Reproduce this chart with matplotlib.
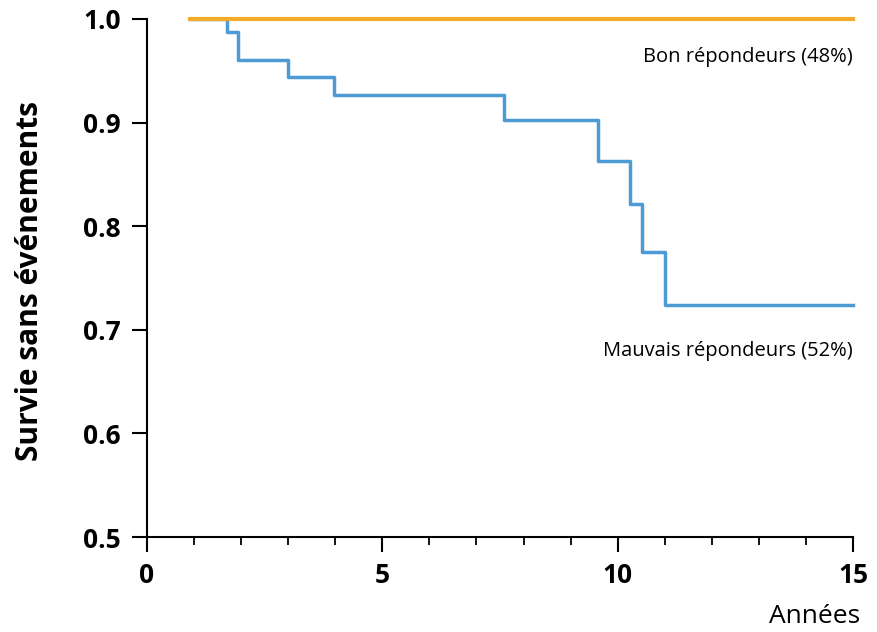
import matplotlib.pyplot as plt
from matplotlib.ticker import MultipleLocator

# Kaplan-Meier steps (years, survival)
good_t = [0.91, 15.0]
good_s = [1.0, 1.0]

poor_t = [0.91, 1.69, 1.94, 3.0, 3.97, 7.58, 9.59, 10.26, 10.52, 11.0, 15.0]
poor_s = [1.0, 0.987, 0.960, 0.944, 0.927, 0.902, 0.863, 0.821, 0.775, 0.724, 0.724]

good_label = "Bon répondeurs (48%)"
poor_label = "Mauvais répondeurs (52%)"

plt.rcParams["font.family"] = ["Open Sans", "DejaVu Sans"]

fig = plt.figure(figsize=(8.77, 6.32), dpi=100)
ax = fig.add_axes([0.1676, 0.1503, 0.805, 0.8197])

ax.step(poor_t, poor_s, where="post", color="#4d9bd5", lw=2.5, zorder=2, clip_on=False)
ax.step(good_t, good_s, where="post", color="#f5ab2a", lw=3, zorder=3, clip_on=False)

ax.set_xlim(0, 15)
ax.set_ylim(0.5, 1.0)
ax.set_xticks([0, 5, 10, 15])
ax.xaxis.set_minor_locator(MultipleLocator(1))
ax.set_yticks([0.5, 0.6, 0.7, 0.8, 0.9, 1.0])
ax.set_yticklabels(["0.5", "0.6", "0.7", "0.8", "0.9", "1.0"])

for s in ["top", "right"]:
    ax.spines[s].set_visible(False)
for s in ["left", "bottom"]:
    ax.spines[s].set_linewidth(1.5)

ax.tick_params(axis="both", which="major", length=11, width=1.5, labelsize=19)
ax.tick_params(axis="x", which="major", pad=7)
ax.tick_params(axis="y", which="major", pad=8)
ax.tick_params(axis="x", which="minor", length=6, width=1.3)
for lab in ax.get_xticklabels() + ax.get_yticklabels():
    lab.set_fontweight("bold")

fig.text(0.034, 0.555, "Survie sans événements", rotation=90, ha="center",
         va="center", fontsize=21.5, fontweight="bold")
ax.text(15, 0.963, good_label, ha="right", va="center", fontsize=14.5)
ax.text(15, 0.680, poor_label, ha="right", va="center", fontsize=14.5)
fig.text(0.9806, 0.024, "Années", ha="right", va="center", fontsize=19)

fig.savefig("out.png", dpi=100)
